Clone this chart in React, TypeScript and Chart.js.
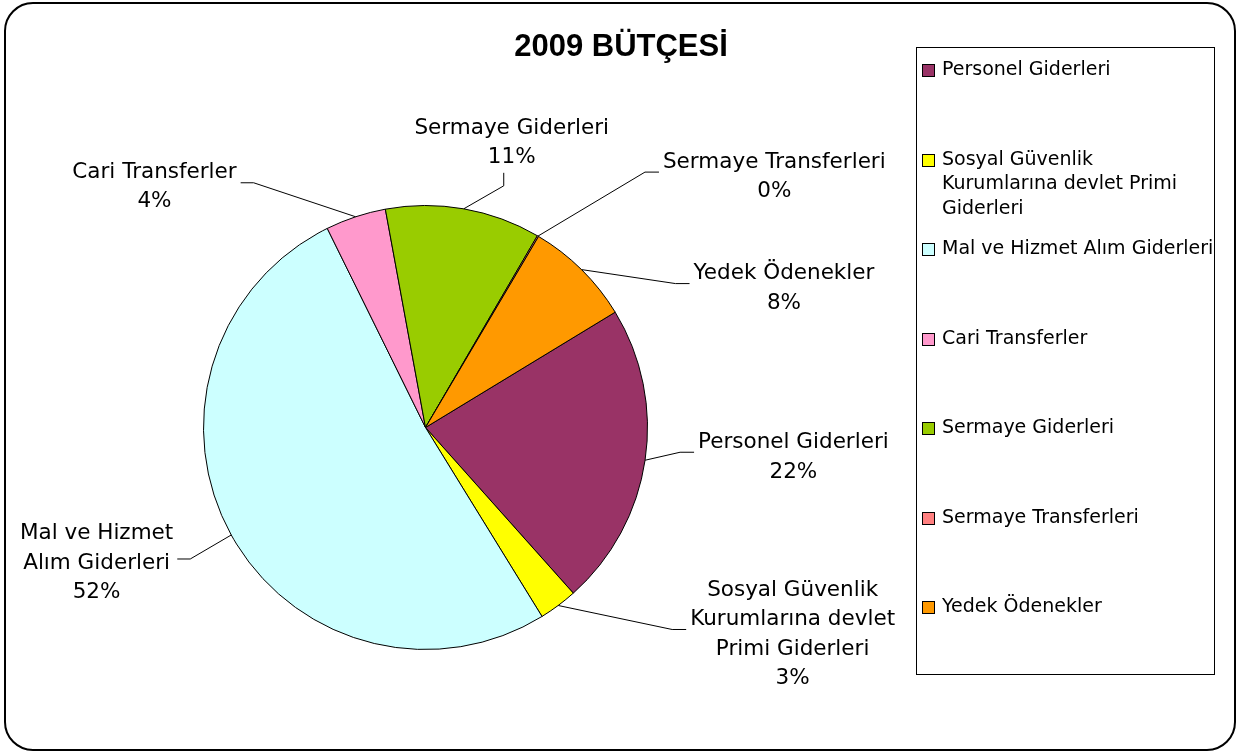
import React, { useEffect, useRef } from "react";
import { Chart, registerables } from "chart.js";

Chart.register(...registerables);

const TITLE = "2009 BÜTÇESİ";

const categories = [
  "Personel Giderleri",
  "Sosyal Güvenlik Kurumlarına devlet Primi Giderleri",
  "Mal ve Hizmet Alım Giderleri",
  "Cari Transferler",
  "Sermaye Giderleri",
  "Sermaye Transferleri",
  "Yedek Ödenekler",
];

const values = [22.1, 2.8, 51.5, 4.4, 11.3, 0.1, 7.8];

const colors = ["#993366", "#FFFF00", "#CCFFFF", "#FF99CC", "#99CC00", "#FF8080", "#FF9900"];

// wrapped category names as shown beside the pie
const pieLabelLines = [
  ["Personel Giderleri"],
  ["Sosyal Güvenlik", "Kurumlarına devlet", "Primi Giderleri"],
  ["Mal ve Hizmet", "Alım Giderleri"],
  ["Cari Transferler"],
  ["Sermaye Giderleri"],
  ["Sermaye Transferleri"],
  ["Yedek Ödenekler"],
];

// wrapped category names as shown in the legend
const legendLines = [
  ["Personel Giderleri"],
  ["Sosyal Güvenlik", "Kurumlarına devlet Primi", "Giderleri"],
  ["Mal ve Hizmet Alım Giderleri"],
  ["Cari Transferler"],
  ["Sermaye Giderleri"],
  ["Sermaye Transferleri"],
  ["Yedek Ödenekler"],
];

// leader-line layout (elbow offset from the slice's outer edge, and label side)
const leaderLayout = [
  { dx: 35, dy: -8, side: "right" },
  { dx: 114, dy: 24, side: "right" },
  { dx: -41, dy: 24, side: "left" },
  { dx: -102, dy: -34, side: "left" },
  { dx: 40, dy: -23, side: "top" },
  { dx: 107, dy: -64, side: "right" },
  { dx: 94, dy: 14, side: "right" },
];

const W = 1240;
const H = 754;

const decorPlugin = {
  id: "decor",
  beforeDraw(chart: any) {
    const ctx = chart.ctx;
    ctx.save();
    ctx.fillStyle = "#ffffff";
    ctx.fillRect(0, 0, W, H);
    // outer rounded frame
    ctx.beginPath();
    ctx.lineWidth = 2;
    ctx.strokeStyle = "#000000";
    (ctx as any).roundRect(5, 3, 1230, 747, 28);
    ctx.stroke();
    // title
    ctx.fillStyle = "#000000";
    ctx.font = "bold 31px 'Liberation Sans', Arial, sans-serif";
    ctx.textAlign = "center";
    ctx.textBaseline = "alphabetic";
    ctx.fillText(TITLE, 621, 56);
    // legend box
    const lx = 916, ly = 47, lw = 298, lh = 627;
    ctx.lineWidth = 1;
    ctx.strokeRect(lx + 0.5, ly + 0.5, lw, lh);
    const slot = lh / categories.length;
    ctx.font = "19px 'DejaVu Sans', sans-serif";
    ctx.textAlign = "left";
    ctx.textBaseline = "middle";
    const bg = chart.data.datasets[0].backgroundColor;
    legendLines.forEach((lines, i) => {
      const y0 = ly + 23 + i * slot;
      ctx.fillStyle = bg[i];
      ctx.fillRect(922, Math.round(y0 - 6), 13, 13);
      ctx.strokeStyle = "#000000";
      ctx.strokeRect(922.5, Math.round(y0 - 6) + 0.5, 12, 12);
      ctx.fillStyle = "#000000";
      lines.forEach((t, k) => ctx.fillText(t, 942, y0 + k * 24.5));
    });
    ctx.restore();
  },
  afterDatasetsDraw(chart: any) {
    const ctx = chart.ctx;
    const meta = chart.getDatasetMeta(0);
    const data = chart.data.datasets[0].data as number[];
    const total = data.reduce((a, b) => a + b, 0);
    ctx.save();
    ctx.font = "21.5px 'DejaVu Sans', sans-serif";
    ctx.textAlign = "center";
    ctx.textBaseline = "middle";
    ctx.strokeStyle = "#000000";
    ctx.lineWidth = 1;
    meta.data.forEach((arc: any, i: number) => {
      const p = arc.getProps(["x", "y", "startAngle", "endAngle", "outerRadius"], true);
      const mid = (p.startAngle + p.endAngle) / 2;
      const ax = p.x + Math.cos(mid) * p.outerRadius;
      const ay = p.y + Math.sin(mid) * p.outerRadius;
      const lay = leaderLayout[i];
      const ex = ax + lay.dx;
      const ey = ay + lay.dy;
      let tx = ex, ty = ey;
      if (lay.side === "right") tx = ex + 14;
      else if (lay.side === "left") tx = ex - 13;
      else ty = ey - 13;
      ctx.beginPath();
      ctx.moveTo(ax, ay);
      ctx.lineTo(ex, ey);
      ctx.lineTo(tx, ty);
      ctx.stroke();
      const pct = Math.round((data[i] / total) * 100) + "%";
      const lines = [...pieLabelLines[i], pct];
      const lh = 29.5;
      const bw = Math.max(...lines.map((t) => ctx.measureText(t).width));
      let cx: number, firstY: number;
      if (lay.side === "right") {
        cx = tx + 4 + bw / 2;
        firstY = ty + 5 - ((lines.length - 1) * lh) / 2;
      } else if (lay.side === "left") {
        cx = tx - 4 - bw / 2;
        firstY = ty + 4 - ((lines.length - 1) * lh) / 2;
      } else {
        cx = tx + 8;
        firstY = ty - 15 - (lines.length - 1) * lh;
      }
      ctx.fillStyle = "#000000";
      lines.forEach((t, k) => ctx.fillText(t, cx, firstY + k * lh));
    });
    ctx.restore();
  },
};

export default function App() {
  const ref = useRef<HTMLCanvasElement | null>(null);
  useEffect(() => {
    if (!ref.current) return;
    const chart = new Chart(ref.current, {
      type: "pie",
      data: {
        labels: categories,
        datasets: [
          {
            data: values,
            backgroundColor: colors,
            borderColor: "#000000",
            borderWidth: 1,
          },
        ],
      },
      options: {
        responsive: false,
        animation: false,
        devicePixelRatio: 1,
        rotation: 58.7,
        layout: { padding: { left: 203, right: 592, top: 205, bottom: 104 } },
        plugins: {
          legend: { display: false },
          title: { display: false },
          tooltip: { enabled: false },
        },
      },
      plugins: [decorPlugin],
    } as any);
    return () => chart.destroy();
  }, []);
  return (
    <div style={{ position: "absolute", left: 0, top: 0, width: W, height: H }}>
      <canvas ref={ref} width={W} height={H} style={{ display: "block", width: W, height: H }} />
    </div>
  );
}
